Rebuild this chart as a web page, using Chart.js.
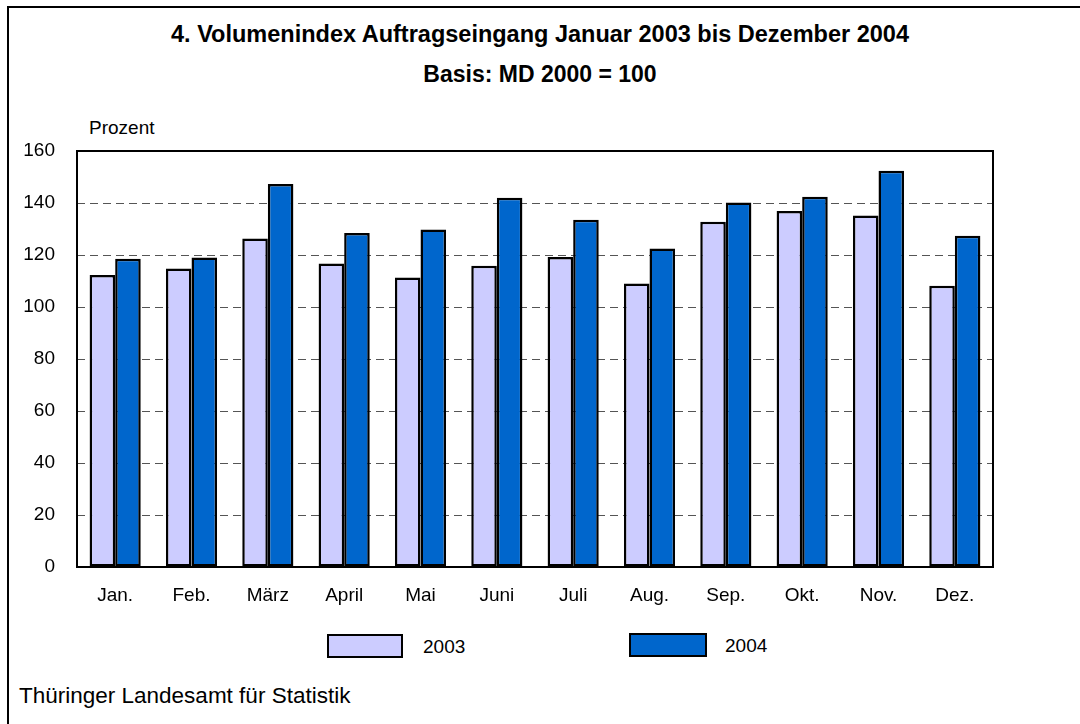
<!DOCTYPE html>
<html lang="de">
<head>
<meta charset="utf-8">
<title>Volumenindex Auftragseingang</title>
<script src="https://cdn.jsdelivr.net/npm/chart.js@4.4.0/dist/chart.umd.min.js"></script>
<style>
    html, body { margin: 0; padding: 0; background: #fff; }
    body { width: 1080px; height: 724px; position: relative; overflow: hidden;
           font-family: "Liberation Sans", Arial, sans-serif; color: #000; }
    .frame { position: absolute; left: 7px; top: 6px; width: 1200px; height: 900px;
             border: 2px solid #000; box-sizing: border-box; }
    .txt { position: absolute; line-height: 1; white-space: nowrap; }
    .title { left: 0; width: 1080px; text-align: center; font-weight: bold; }
    #chart { position: absolute; left: 0; top: 0; }
    .legend-box { position: absolute; border: 2px solid #000; box-sizing: border-box; }
</style>
</head>
<body>
<div class="frame"></div>
<div class="txt title" style="top:23px; font-size:23.5px">4. Volumenindex Auftragseingang Januar 2003 bis Dezember 2004</div>
<div class="txt title" style="top:63px; font-size:23px">Basis: MD 2000 = 100</div>
<div class="txt" style="left:89px; top:118px; font-size:19px">Prozent</div>
<canvas id="chart" width="1080" height="620"></canvas>
<div id="legend"></div>
<div class="txt" style="left:19px; top:685px; font-size:22.5px">Thüringer Landesamt für Statistik</div>

<script>
// Daten
const months = ['Jan.', 'Feb.', 'März', 'April', 'Mai', 'Juni', 'Juli', 'Aug.', 'Sep.', 'Okt.', 'Nov.', 'Dez.'];
const values2003 = [112.3, 114.8, 126.3, 116.7, 111.3, 115.9, 119.2, 109.0, 132.8, 136.9, 135.2, 108.2];
const values2004 = [118.6, 119.0, 147.3, 128.5, 129.8, 142.0, 133.6, 122.5, 140.2, 142.4, 152.4, 127.4];
const yTicks = [0, 20, 40, 60, 80, 100, 120, 140, 160];

const seriesLabels = ['2003', '2004'];
const seriesColors = ['#CCCCFF', '#0066CC'];

document.addEventListener('DOMContentLoaded', function() {
    Chart.defaults.font.family = '"Liberation Sans", Arial, sans-serif';
    Chart.defaults.font.size = 19;
    Chart.defaults.color = '#000';

    // Rahmen um die Zeichenfläche
    const frameBorder = {
        id: 'frameBorder',
        afterDatasetsDraw(chart) {
            const { ctx, chartArea: a } = chart;
            ctx.save();
            ctx.lineWidth = 2;
            ctx.strokeStyle = '#000';
            ctx.strokeRect(a.left, a.top, a.right - a.left, a.bottom - a.top);
            ctx.restore();
        }
    };

    const ctx = document.getElementById('chart').getContext('2d');
    const chart = new Chart(ctx, {
        type: 'bar',
        data: {
            labels: months,
            datasets: [values2003, values2004].map((vals, i) => ({
                label: seriesLabels[i],
                data: vals,
                backgroundColor: seriesColors[i],
                borderColor: '#000',
                borderWidth: 2.5,
                borderSkipped: false,
                categoryPercentage: 0.67,
                barPercentage: 1.0
            }))
        },
        options: {
            responsive: false,
            animation: false,
            layout: { padding: { top: 151, left: 0, right: 87, bottom: 0 } },
            plugins: {
                legend: { display: false },
                tooltip: { enabled: false }
            },
            scales: {
                x: {
                    grid: { display: false, drawTicks: false },
                    border: { display: false },
                    ticks: { padding: 17, font: { size: 19 } },
                    afterFit(scale) { scale.height = 53; }
                },
                y: {
                    min: 0,
                    max: 160,
                    afterBuildTicks(scale) { scale.ticks = yTicks.map(v => ({ value: v })); },
                    grid: {
                        drawTicks: false,
                        lineWidth: 1,
                        color: c => (c.tick && (c.tick.value === 0 || c.tick.value === 160)) ? 'rgba(0,0,0,0)' : '#555'
                    },
                    border: { display: false, dash: [8, 5] },
                    ticks: { padding: 22, font: { size: 19 } },
                    afterFit(scale) { scale.width = 77; }
                }
            }
        },
        plugins: [frameBorder]
    });

    // Legende (aus den Datensätzen)
    const legendPos = [{ box: 327, top: 634, w: 76, text: 423 }, { box: 629, top: 633, w: 78, text: 725 }];
    const legend = document.getElementById('legend');
    chart.data.datasets.forEach((ds, i) => {
        const p = legendPos[i];
        const box = document.createElement('div');
        box.className = 'legend-box';
        box.style.cssText = `left:${p.box}px; top:${p.top}px; width:${p.w}px; height:24px; background:${ds.backgroundColor}`;
        legend.appendChild(box);
        const t = document.createElement('div');
        t.className = 'txt';
        t.style.cssText = `left:${p.text}px; top:${p.top + 3}px; font-size:19px`;
        t.textContent = ds.label;
        legend.appendChild(t);
    });
});
</script>
</body>
</html>
